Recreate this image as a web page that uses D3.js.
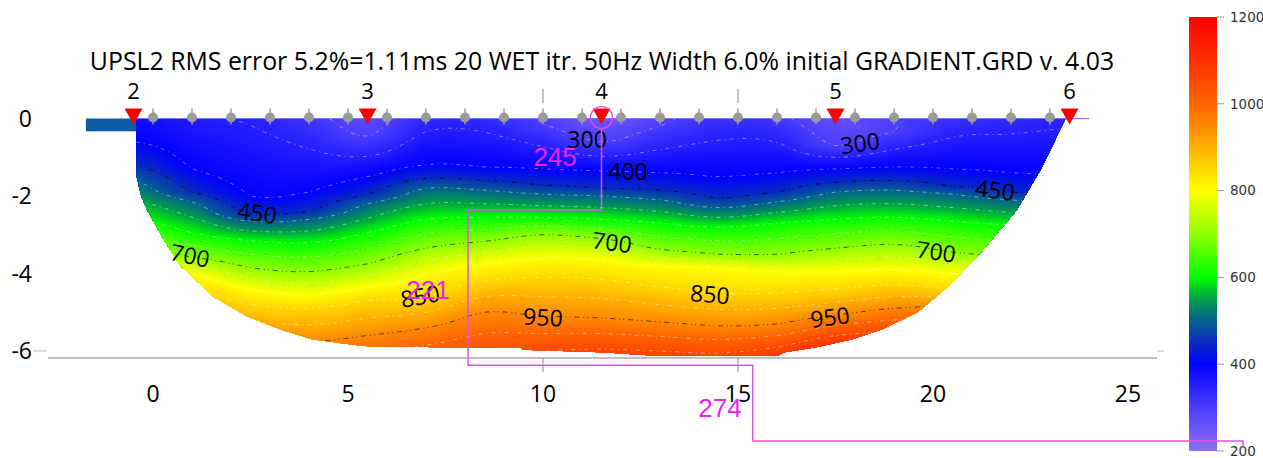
<!DOCTYPE html>
<html><head><meta charset="utf-8">
<script src="https://cdn.jsdelivr.net/npm/d3@7"></script>
<style>body{margin:0;background:#fff;overflow:hidden}svg{display:block}</style>
</head><body>
<svg id="chart" width="1263" height="458"></svg>
<script>
// ---------------- data ----------------
const titleText = "UPSL2 RMS error 5.2%=1.11ms 20 WET itr. 50Hz Width 6.0% initial GRADIENT.GRD v. 4.03";
const xTicks = [0, 5, 10, 15, 20, 25];
const xTickMarks = [10, 15];
const yTicks = [0, -2, -4, -6];
const colorTicks = [200, 400, 600, 800, 1000, 1200];
const colorStopValues = [200, 300, 400, 450, 500, 550, 600, 700, 800, 850, 900, 1000, 1100, 1200];
const colorStopHex = ["#8c70f0", "#4a3cff", "#0000ff", "#0a2cc0", "#056090", "#00a048", "#00ff00", "#90ff00", "#ffff00", "#ffd800", "#ffb000", "#ff6400", "#ff3000", "#ff0000"];

const shotX = [-0.5, 5.5, 11.5, 17.5, 23.5];
const shotLabels = ["2", "3", "4", "5", "6"];
const geophoneX = [0,1,2,3,4,5,6,7,8,9,10,11,12,13,14,15,16,17,18,19,20,21,22,23];

// velocity model: columns, surface velocity, depth (m) where each level is reached
const columnX = [-0.5, 1, 2.5, 4, 5.5, 7, 8.5, 10, 11.5, 13, 14.5, 16, 17.5, 19, 20.5, 22, 23.5];
const surfaceVelocity = [380, 355, 345, 315, 280, 330, 330, 295, 250, 290, 320, 310, 265, 295, 320, 330, 340];
const levelVelocities = [300, 400, 450, 500, 600, 700, 800, 850, 950, 1050];
const depth300  = [null, null, null, null, 0.45, null, null, 0.15, 0.6, 0.2, null, null, 0.7, 0.35, null, null, null];
const depth400  = [0.6, 1.3, 2.0, 1.9, 1.5, 1.2, 1.25, 1.3, 1.35, 1.4, 1.5, 1.4, 1.3, 1.25, 1.3, 1.4, 1.5];
const depth450  = [1.2, 1.9, 2.45, 2.4, 1.97, 1.55, 1.6, 1.72, 1.8, 1.85, 2.05, 1.9, 1.65, 1.6, 1.75, 1.9, 2.0];
const depth500  = [1.6, 2.15, 2.65, 2.6, 2.2, 1.8, 1.85, 1.95, 2.0, 2.1, 2.3, 2.15, 1.9, 1.85, 1.95, 2.1, 2.2];
const depth600  = [2.6, 2.95, 3.15, 3.2, 2.95, 2.6, 2.55, 2.55, 2.6, 2.7, 2.8, 2.7, 2.6, 2.55, 2.65, 2.75, 2.8];
const depth700  = [3.3, 3.58, 3.85, 3.95, 3.75, 3.35, 3.17, 3.0, 3.1, 3.38, 3.5, 3.5, 3.35, 3.25, 3.45, 3.6, 3.6];
const depth800  = [3.9, 4.0, 4.4, 4.55, 4.35, 4.0, 3.75, 3.6, 3.65, 3.8, 3.85, 3.95, 3.95, 3.9, 4.0, 4.1, 4.1];
const depth850  = [4.3, 4.4, 4.8, 4.9, 4.7, 4.6, 4.2, 4.1, 4.15, 4.35, 4.5, 4.5, 4.4, 4.3, 4.4, 4.5, 4.5];
const depth950  = [5.2, 5.3, 5.6, 5.75, 5.6, 5.4, 5.0, 5.1, 5.15, 5.25, 5.35, 5.3, 5.08, 4.9, 4.85, 5.0, 5.0];
const depth1050 = [6.2, 6.3, 6.5, 6.6, 6.5, 6.3, 6.1, 6.0, 5.95, 6.0, 6.05, 5.9, 5.6, 5.5, 5.5, 5.6, 5.6];

// ray coverage envelope: [x, depth]
const coverage = [[-0.42,0],[-0.42,1.5],[-0.3,2.0],[-0.15,2.36],[0.26,3.1],[0.7,3.8],[1.55,4.6],[2.4,5.1],[3.25,5.44],[4.1,5.7],[5.4,5.87],[7.4,5.9],[9.4,5.9],[9.5,5.97],[11.5,6.03],[13,6.13],[16,6.13],[16.2,6.03],[17,5.9],[17.9,5.7],[18.7,5.44],[19.6,5.0],[20.4,4.33],[21.3,3.38],[22.15,2.36],[22.8,1.25],[23.4,0]];

const blackLevels = [450, 700, 950];
const whiteLevels = [250, 300, 350, 400, 500, 550, 600, 650, 750, 800, 850, 900, 1000, 1050, 1100];

const contourLabels = [
  {t:"300", x:11.13, d:0.56, r:0}, {t:"300", x:18.13, d:0.64, r:-8},
  {t:"400", x:12.18, d:1.38, r:0},
  {t:"450", x:2.67, d:2.44, r:8}, {t:"450", x:21.59, d:1.85, r:8},
  {t:"700", x:0.95, d:3.54, r:12}, {t:"700", x:11.77, d:3.2, r:8}, {t:"700", x:20.08, d:3.44, r:8},
  {t:"850", x:6.85, d:4.59, r:-10}, {t:"850", x:14.28, d:4.54, r:5},
  {t:"950", x:10.0, d:5.13, r:3}, {t:"950", x:17.36, d:5.13, r:-7}
];
const magentaLabels = [{t:"245", x:10.31, d:0.99}, {t:"221", x:7.05, d:4.42}, {t:"274", x:14.54, d:7.47}];
const magentaTrace = [[11.5,0.26],[11.5,2.36],[8.08,2.36],[8.08,6.37],[15.38,6.37],[15.38,8.32],[27.95,8.32],[27.95,8.5]];
const topographyStrip = [[-1.72,0],[-0.42,0.33]];

// ---------------- scales ----------------
const svg = d3.select("#chart");
const x = d3.scaleLinear().domain([0, 25]).range([153, 1128]);
const y = d3.scaleLinear().domain([0, -6]).range([118.5, 351]);
const yd = d => y(-d);
const color = d3.scaleLinear().domain(colorStopValues).range(colorStopHex).clamp(true);
const cb = d3.scaleLinear().domain([200, 1200]).range([451, 17]);

// ---------------- velocity grid ----------------
const depthTable = [depth300, depth400, depth450, depth500, depth600, depth700, depth800, depth850, depth950, depth1050];
const profiles = columnX.map((cx, c) => {
  const pts = [[0, surfaceVelocity[c]]];
  levelVelocities.forEach((L, k) => {
    const d = depthTable[k][c];
    if (d != null && L > surfaceVelocity[c]) pts.push([d, L]);
  });
  return pts;
});
function velAt(pts, z) {
  if (z <= 0) return pts[0][1];
  for (let k = 1; k < pts.length; k++) {
    if (z <= pts[k][0]) {
      const [d0, v0] = pts[k-1], [d1, v1] = pts[k];
      return v0 + (v1 - v0) * (z - d0) / (d1 - d0);
    }
  }
  const n = pts.length, [d0, v0] = pts[n-2], [d1, v1] = pts[n-1];
  return Math.min(1200, v1 + (v1 - v0) * (z - d1) / (d1 - d0));
}
function cr(p0, p1, p2, p3, t) {
  const t2 = t*t, t3 = t2*t;
  return 0.5*((2*p1) + (-p0+p2)*t + (2*p0-5*p1+4*p2-p3)*t2 + (-p0+3*p1-3*p2+p3)*t3);
}
const gx0 = -2, gx1 = 25, gdx = 0.1, gz0 = -0.5, gz1 = 7, gdz = 0.05;
const nx = Math.round((gx1-gx0)/gdx) + 1, nz = Math.round((gz1-gz0)/gdz) + 1;
const values = new Float64Array(nx*nz);
const nc = columnX.length;
for (let j = 0; j < nz; j++) {
  const z = gz0 + j*gdz;
  const cv = profiles.map(p => velAt(p, z));
  for (let i = 0; i < nx; i++) {
    let xx = Math.max(columnX[0], Math.min(columnX[nc-1], gx0 + i*gdx));
    let k = 0;
    while (k < nc-2 && xx > columnX[k+1]) k++;
    const f = (xx - columnX[k]) / (columnX[k+1] - columnX[k]);
    values[j*nx + i] = cr(cv[Math.max(0,k-1)], cv[k], cv[k+1], cv[Math.min(nc-1,k+2)], f);
  }
}
const proj = d3.geoTransform({point: function(px, py) {
  this.stream.point(x(gx0 + (px - 0.5)*gdx), yd(gz0 + (py - 0.5)*gdz));
}});
const gpath = d3.geoPath(proj);

// clip
const defs = svg.append("defs");
defs.append("clipPath").attr("id", "cov").append("path")
  .attr("d", d3.line().x(p => x(p[0])).y(p => yd(p[1]))(coverage) + "Z");

// topography strip
svg.append("rect")
  .attr("x", x(topographyStrip[0][0])).attr("y", yd(topographyStrip[0][1]))
  .attr("width", x(topographyStrip[1][0]) - x(topographyStrip[0][0]))
  .attr("height", yd(topographyStrip[1][1]) - yd(topographyStrip[0][1]))
  .attr("fill", "#0e5ca4");

const field = svg.append("g").attr("clip-path", "url(#cov)");
const bands = d3.range(150, 1205, 5);
const bandContours = d3.contours().size([nx, nz]).thresholds(bands)(values);
field.selectAll("path.band").data(bandContours).join("path").attr("class", "band")
  .attr("d", gpath).attr("fill", d => color(d.value + 2.5)).attr("stroke", "none");

const whiteC = d3.contours().size([nx, nz]).thresholds(whiteLevels)(values);
field.selectAll("path.wl").data(whiteC).join("path").attr("class", "wl")
  .attr("d", gpath).attr("fill", "none").attr("stroke", "#ffffff")
  .attr("stroke-opacity", 0.45).attr("stroke-width", 1).attr("stroke-dasharray", "4 4 1 4");
const blackC = d3.contours().size([nx, nz]).thresholds(blackLevels)(values);
field.selectAll("path.bl").data(blackC).join("path").attr("class", "bl")
  .attr("d", gpath).attr("fill", "none").attr("stroke", "#000")
  .attr("stroke-opacity", 0.65).attr("stroke-width", 1).attr("stroke-dasharray", "5 4 1 3 1 4");

// surface line
svg.append("line").attr("x1", x(-0.42)).attr("x2", x(24)).attr("y1", yd(0)).attr("y2", yd(0))
  .attr("stroke", "#7878ff").attr("stroke-width", 1.2);

// contour labels
svg.append("g").selectAll("text").data(contourLabels).join("text")
  .attr("transform", d => `translate(${x(d.x)},${yd(d.d)}) rotate(${d.r})`)
  .attr("text-anchor", "middle").attr("dy", "0.36em")
  .attr("font-family", "'Open Sans', sans-serif").attr("font-size", 23).attr("fill", "#000")
  .text(d => d.t);

// axes
const axisG = svg.append("g");
axisG.append("line").attr("x1", 48).attr("x2", 1157).attr("y1", yd(6.18)).attr("y2", yd(6.18))
  .attr("stroke", "#aaa").attr("stroke-width", 1.3);
axisG.append("line").attr("x1", 33).attr("x2", 47).attr("y1", y(-6)).attr("y2", y(-6)).attr("stroke", "#bbb");
axisG.append("line").attr("x1", 1157).attr("x2", 1164).attr("y1", y(-6)).attr("y2", y(-6)).attr("stroke", "#bbb");
axisG.selectAll("text.xt").data(xTicks).join("text").attr("class", "xt")
  .attr("x", d => x(d)).attr("y", 394).attr("dy", "0.36em").attr("text-anchor", "middle")
  .attr("font-family", "'Open Sans', sans-serif").attr("font-size", 23).attr("fill", "#000").text(d => d);
axisG.selectAll("text.yt").data(yTicks).join("text").attr("class", "yt")
  .attr("x", 32).attr("y", d => y(d)).attr("dy", "0.36em").attr("text-anchor", "end")
  .attr("font-family", "'Open Sans', sans-serif").attr("font-size", 23).attr("fill", "#000").text(d => d);
axisG.selectAll("line.tb").data(xTickMarks).join("line").attr("class", "tb")
  .attr("x1", d => x(d)).attr("x2", d => x(d)).attr("y1", yd(6.18)).attr("y2", 372).attr("stroke", "#888");
axisG.selectAll("line.tt").data(xTickMarks).join("line").attr("class", "tt")
  .attr("x1", d => x(d)).attr("x2", d => x(d)).attr("y1", 89).attr("y2", 103).attr("stroke", "#888");

// geophones
const geo = svg.append("g").selectAll("g").data(geophoneX).join("g")
  .attr("transform", d => `translate(${x(d)},${yd(0)})`);
geo.append("line").attr("x1", 0).attr("x2", 0).attr("y1", -10).attr("y2", 6).attr("stroke", "#999").attr("stroke-width", 1.5);
geo.append("circle").attr("cx", 0).attr("cy", -1).attr("r", 5).attr("fill", "#9a9a9a");

// shots
const shots = svg.append("g").selectAll("g").data(shotX).join("g")
  .attr("transform", d => `translate(${x(d)},${yd(0)})`);
shots.append("path").attr("d", "M-9,-10L9,-10L0,6Z").attr("fill", "#ff0000");
shots.append("text").attr("x", 0).attr("y", -27).attr("dy", "0.36em").attr("text-anchor", "middle")
  .attr("font-family", "'Open Sans', sans-serif").attr("font-size", 22).attr("fill", "#000")
  .text((d, i) => shotLabels[i]);

// title
const title = svg.append("text").attr("x", 602).attr("y", 61).attr("dy", "0.36em").attr("text-anchor", "middle")
  .attr("font-family", "'Open Sans', sans-serif").attr("font-size", 22).attr("fill", "#000").text(titleText);
const tw = title.node().getComputedTextLength();
title.attr("font-size", 22 * 1025 / tw);

// colour bar
const grad = defs.append("linearGradient").attr("id", "cbg").attr("x1", 0).attr("x2", 0).attr("y1", 1).attr("y2", 0);
grad.selectAll("stop").data(colorStopValues).join("stop")
  .attr("offset", d => (d - 200) / 1000).attr("stop-color", d => color(d));
svg.append("rect").attr("x", 1189).attr("y", cb(1200)).attr("width", 28).attr("height", cb(200) - cb(1200))
  .attr("fill", "url(#cbg)");
const cbt = svg.append("g").selectAll("g").data(colorTicks).join("g").attr("transform", d => `translate(1217,${cb(d)})`);
cbt.append("line").attr("x1", 0).attr("x2", 7).attr("stroke", "#999");
cbt.append("text").attr("x", 13).attr("dy", "0.36em").attr("font-family", "'DejaVu Sans', sans-serif")
  .attr("font-size", 13.5).attr("fill", "#333").text(d => d);

// magenta annotations
const mg = svg.append("g");
mg.append("circle").attr("cx", x(11.5)).attr("cy", yd(0) - 1).attr("r", 11).attr("fill", "none")
  .attr("stroke", "#ee44ee").attr("stroke-width", 1.2);
mg.append("path").attr("d", d3.line().x(p => x(p[0])).y(p => yd(p[1]))(magentaTrace))
  .attr("fill", "none").attr("stroke", "#dd55dd").attr("stroke-width", 1.5);
mg.selectAll("text").data(magentaLabels).join("text")
  .attr("x", d => x(d.x)).attr("y", d => yd(d.d)).attr("dy", "0.36em").attr("text-anchor", "middle")
  .attr("font-family", "'Liberation Sans', Arial, sans-serif").attr("font-size", 26).attr("fill", "#ee22ee")
  .text(d => d.t);
</script>
</body></html>
